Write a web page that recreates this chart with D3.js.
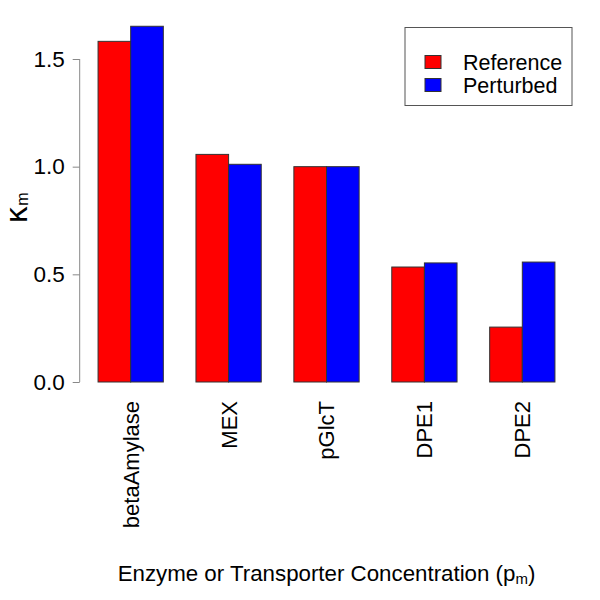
<!DOCTYPE html>
<html>
<head>
<meta charset="utf-8">
<script src="https://cdn.jsdelivr.net/npm/d3@7"></script>
<style>
  body { margin: 0; background: #fff; }
  svg { font-family: "Liberation Sans", Arial, Helvetica, sans-serif; }
</style>
</head>
<body>
<div id="chart"></div>
<script>
// data
const enzymes = ['betaAmylase', 'MEX', 'pGlcT', 'DPE1', 'DPE2'];
const seriesNames = ['Reference', 'Perturbed'];
const referenceValues = [1.582, 1.057, 1.0, 0.534, 0.255];
const perturbedValues = [1.652, 1.011, 1.0, 0.553, 0.557];
const yTicks = [0.0, 0.5, 1.0, 1.5];
const seriesColors = ['#ff0000', '#0000ff'];

const width = 600, height = 600;
const plot = { left: 79.7, right: 573.3, top: 12, bottom: 396 };

const svg = d3.select('#chart')
    .append('svg')
    .attr('width', width)
    .attr('height', height);

// group scale, bars of one group touch each other
const scaleX = d3.scaleBand()
    .domain(enzymes)
    .range([plot.left, plot.right])
    .paddingInner(1 / 3)
    .paddingOuter(0.1875);

const scaleSeries = d3.scaleBand()
    .domain(seriesNames)
    .range([0, scaleX.bandwidth()])
    .padding(0);

const scaleY = d3.scaleLinear()
    .domain([0, 1.5])
    .range([382, 59]);

const rows = enzymes.map((e, i) => ({
    enzyme: e,
    values: [referenceValues[i], perturbedValues[i]]
}));

// bars
svg.append('g')
    .selectAll('g')
    .data(rows)
    .join('g')
    .attr('transform', d => `translate(${scaleX(d.enzyme)},0)`)
    .selectAll('rect')
    .data(d => d.values.map((v, j) => ({ name: seriesNames[j], value: v, color: seriesColors[j] })))
    .join('rect')
    .attr('x', d => scaleSeries(d.name))
    .attr('y', d => scaleY(d.value))
    .attr('width', scaleSeries.bandwidth())
    .attr('height', d => scaleY(0) - scaleY(d.value))
    .attr('fill', d => d.color)
    .attr('stroke', '#333')
    .attr('stroke-width', 1);

// y axis
const yAxis = svg.append('g')
    .attr('transform', `translate(${plot.left},0)`)
    .call(d3.axisLeft(scaleY)
        .tickValues(yTicks)
        .tickFormat(d3.format('.1f'))
        .tickSize(7)
        .tickPadding(8));
yAxis.selectAll('path, line').attr('stroke', '#888');
yAxis.select('.domain').attr('d', `M0,${scaleY(0)}V${scaleY(1.5)}`);
yAxis.selectAll('text')
    .attr('font-size', 22.5)
    .attr('fill', '#000')
    .attr('font-family', '"Liberation Sans", Arial, sans-serif');

// x labels, rotated
svg.append('g')
    .selectAll('text')
    .data(enzymes)
    .join('text')
    .attr('transform', d => `translate(${scaleX(d) + scaleX.bandwidth() / 2},401) rotate(-90)`)
    .attr('text-anchor', 'end')
    .attr('dy', '0.36em')
    .attr('font-size', 22)
    .text(d => d);

// y axis title: kappa_m
const yTitle = svg.append('text')
    .attr('transform', 'translate(27,208) rotate(-90)')
    .attr('text-anchor', 'middle');
yTitle.append('tspan')
    .attr('font-size', 30)
    .attr('font-family', '"DejaVu Sans", sans-serif')
    .text('κ');
yTitle.append('tspan')
    .attr('font-size', 16)
    .attr('dy', 1)
    .text('m');

// x axis title
const xTitle = svg.append('text')
    .attr('x', (plot.left + plot.right) / 2)
    .attr('y', 581)
    .attr('text-anchor', 'middle')
    .attr('font-size', 22.3);
xTitle.append('tspan').text('Enzyme or Transporter Concentration (p');
xTitle.append('tspan').attr('font-size', 15).attr('dy', 3).text('m');
xTitle.append('tspan').attr('dy', -3).text(')');

// legend
const legend = svg.append('g');
legend.append('rect')
    .attr('x', 405)
    .attr('y', 27.5)
    .attr('width', 167)
    .attr('height', 78)
    .attr('fill', '#fff')
    .attr('stroke', '#555')
    .attr('stroke-width', 1);

const legendItems = legend.selectAll('g')
    .data(seriesNames)
    .join('g')
    .attr('transform', (d, i) => `translate(425,${62 + i * 23})`);
legendItems.append('rect')
    .attr('x', 0)
    .attr('y', -6.5)
    .attr('width', 16)
    .attr('height', 13)
    .attr('fill', (d, i) => seriesColors[i])
    .attr('stroke', '#333');
legendItems.append('text')
    .attr('x', 38)
    .attr('dy', '0.36em')
    .attr('font-size', 21.5)
    .text(d => d);
</script>
</body>
</html>
